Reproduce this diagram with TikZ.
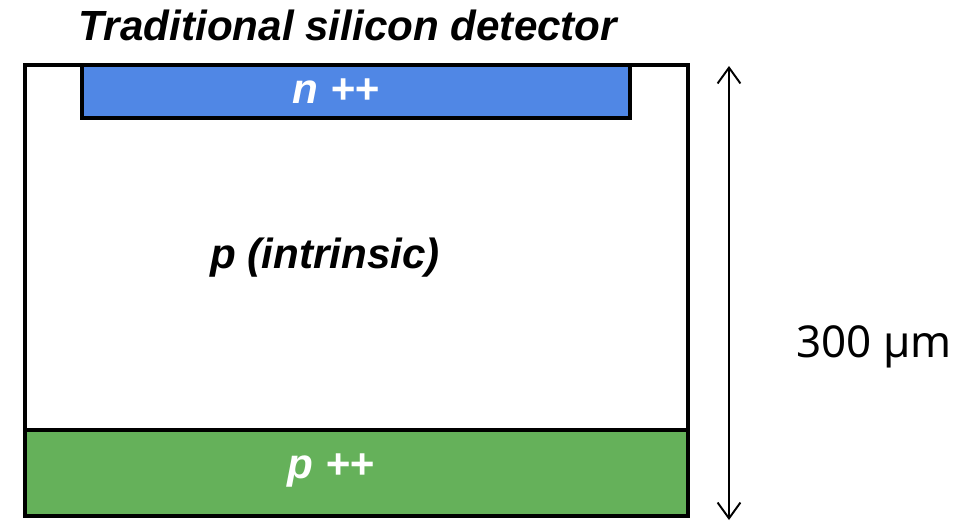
\documentclass[tikz,border=0pt]{standalone}
\usepackage{fontspec}
\setmainfont{Liberation Sans}
\newfontfamily\unitfont{Noto Sans}
\usetikzlibrary{arrows.meta}
\definecolor{sdBlue}{RGB}{80,135,229}
\definecolor{sdGreen}{RGB}{101,177,90}
\definecolor{sdInk}{HTML}{000000}

\tikzset{
  layer/.style={draw=sdInk,line width=2.2pt},
  dopelabel/.style={font=\fontsize{24}{28}\selectfont\bfseries\itshape,inner sep=0pt},
}

\begin{document}
\begin{tikzpicture}[x=1cm,y=1cm]
		\useasboundingbox (0,0) rectangle (19.4,10.44);
		% bulk, backside implant and front strip
		\fill[white] (0.50,0.12) rectangle (13.76,9.14);
		\fill[sdGreen] (0.50,0.12) rectangle (13.76,1.84);
		\fill[sdBlue] (1.64,8.08) rectangle (12.60,9.14);
		\draw[layer] (1.64,9.14) rectangle (12.60,8.08);
		\draw[layer] (0.50,1.84) -- (13.76,1.84);
		\draw[layer] (0.50,0.12) rectangle (13.76,9.14);
		\node[dopelabel,white] (nplus) at (6.72,8.62) {n ++};
		\node[dopelabel] (bulk) at (6.50,5.28) {p (intrinsic)};
		\node[dopelabel,white] (pplus) at (6.62,1.02) {p ++};
		\node[dopelabel] (title) at (6.96,9.94) {Traditional silicon detector};
		% thickness
		\coordinate (top) at (14.58,9.12);
		\coordinate (bot) at (14.58,0.04);
		\draw[sdInk,line width=1.1pt,{Straight Barb[length=9pt,width=13pt]}-{Straight Barb[length=9pt,width=13pt]}] (top) -- (bot);
		\node[font=\unitfont\fontsize{25}{30}\selectfont,inner sep=0pt] (thick) at (17.48,3.50) {300 µm};
	\end{tikzpicture}
\end{document}
